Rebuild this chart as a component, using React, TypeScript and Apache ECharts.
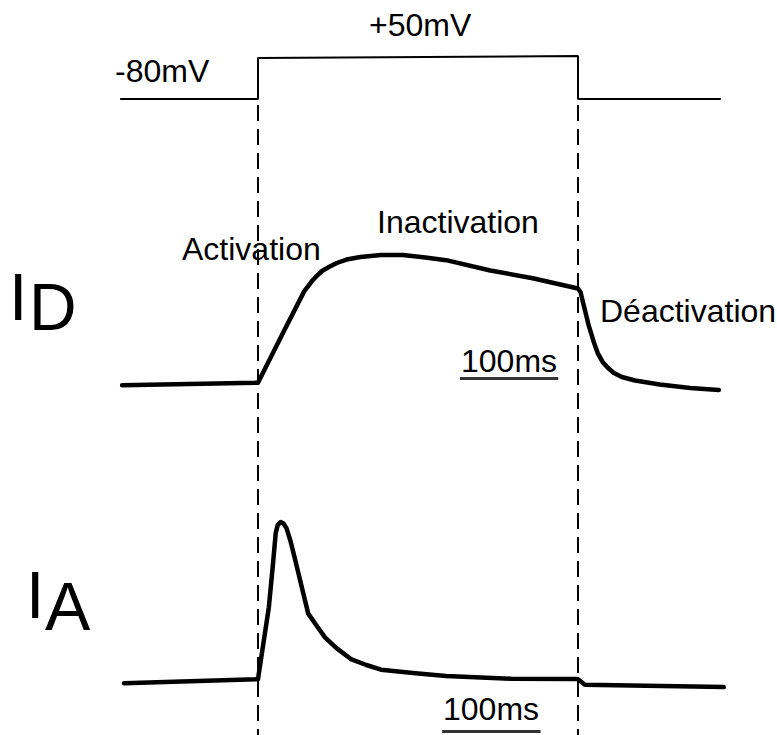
import React, { useEffect, useRef } from "react";
import * as echarts from "echarts";

// Voltage command (ms, mV)
const pulseTimes = [-140, 0, 0, 325, 325, 470];
const pulseMv = [-80, -80, 50, 56, -80, -80];

// I_D delayed rectifier current (normalised)
const idTimes = [-138, 0, 27, 47, 55, 60, 65, 72, 80, 90, 104, 125, 147, 170, 191, 236, 279, 325, 327.5, 332, 336, 341, 345, 350, 355.5, 361.5, 369.5, 383, 408, 439, 468];
const idValues = [-0.01, 0.01, 0.42, 0.72, 0.8, 0.84, 0.876, 0.907, 0.938, 0.965, 0.984, 1.0, 1.0, 0.98, 0.96, 0.88, 0.82, 0.74, 0.713, 0.574, 0.45, 0.326, 0.24, 0.171, 0.124, 0.085, 0.054, 0.027, -0.004, -0.031, -0.047];

// I_A transient current (normalised)
const iaTimes = [-136, 0, 11, 15, 18, 20, 23, 26, 29, 33, 37, 44, 51, 60, 68, 80, 95, 110, 125, 160, 191, 257, 323, 325, 332, 473];
const iaValues = [-0.02, 0.005, 0.46, 0.72, 0.93, 0.98, 1.0, 0.99, 0.96, 0.88, 0.78, 0.6, 0.42, 0.34, 0.27, 0.2, 0.13, 0.095, 0.065, 0.043, 0.025, 0.008, 0.006, 0.005, -0.03, -0.045];

// Scale bars (100 ms)
const idBarTimes = [205, 305];
const idBarValues = [0.043, 0.043];
const iaBarTimes = [187, 287];
const iaBarValues = [-0.326, -0.326];

// Pulse on/off markers
const markerTimes = [0, 325];

const zip = (a: number[], b: number[]) => a.map((v, i) => [v, b[i]]);

const FONT = "'Liberation Sans', Arial, Helvetica, sans-serif";

export default function App() {
  const ref = useRef<HTMLDivElement>(null);
  useEffect(() => {
    if (!ref.current) return;
    const chart = echarts.init(ref.current, undefined, { renderer: "svg" });
    const K = 320 / 325; // px per ms
    const xMin = -150;
    const xMax = 475;
    const left = 258 + xMin * K;
    const width = (xMax - xMin) * K;
    const VPX = 41 / 130;
    const grids = [
      { left, width, top: 99 - 180 * VPX, height: 200 * VPX },
      { left, width, top: 384 - 1.1 * 129, height: 1.3 * 129 },
      { left, width, top: 680 - 1.1 * 158, height: 1.44 * 158 },
      { left, width, top: 105, height: 630 },
    ];
    const yRanges = [
      [-100, 100],
      [-0.2, 1.1],
      [-0.34, 1.1],
      [0, 1],
    ];
    const lineBase = { type: "line", symbol: "none", clip: false, silent: true };
    const text = (t: string, x: number, y: number, size: number, align = "left") => ({
      type: "text",
      x,
      y,
      style: { text: t, fontSize: size, fontFamily: FONT, fill: "#000", align, verticalAlign: "middle" },
    });
    chart.setOption({
      animation: false,
      backgroundColor: "#ffffff",
      grid: grids,
      xAxis: grids.map((_, i) => ({ type: "value", gridIndex: i, min: xMin, max: xMax, show: false })),
      yAxis: yRanges.map((r, i) => ({ type: "value", gridIndex: i, min: r[0], max: r[1], show: false })),
      series: [
        { ...lineBase, xAxisIndex: 0, yAxisIndex: 0, data: zip(pulseTimes, pulseMv), lineStyle: { color: "#000", width: 2 } },
        { ...lineBase, xAxisIndex: 1, yAxisIndex: 1, data: zip(idTimes, idValues), lineStyle: { color: "#000", width: 4.5, join: "round", cap: "round" } },
        { ...lineBase, xAxisIndex: 2, yAxisIndex: 2, data: zip(iaTimes, iaValues), lineStyle: { color: "#000", width: 4.5, join: "round", cap: "round" } },
        { ...lineBase, xAxisIndex: 1, yAxisIndex: 1, data: zip(idBarTimes, idBarValues), lineStyle: { color: "#333", width: 3 } },
        { ...lineBase, xAxisIndex: 2, yAxisIndex: 2, data: zip(iaBarTimes, iaBarValues), lineStyle: { color: "#333", width: 3 } },
        ...markerTimes.map((t) => ({
          ...lineBase,
          xAxisIndex: 3,
          yAxisIndex: 3,
          data: [[t, 1], [t, 0]],
          lineStyle: { color: "#000", width: 2, type: [16, 8] },
        })),
      ],
      graphic: [
        text("-80mV", 115, 71, 32),
        text("+50mV", 369, 25, 32),
        text("Activation", 182, 249, 32),
        text("Inactivation", 377, 222, 32),
        text("Déactivation", 600, 311, 32),
        text("100ms", 509, 361, 32, "center"),
        text("100ms", 491, 709, 32, "center"),
        text("I", 9, 297, 66),
        text("D", 29, 307, 66),
        text("I", 26, 595, 66),
        text("A", 45, 606, 68),
      ],
    });
    return () => chart.dispose();
  }, []);
  return <div ref={ref} style={{ position: "absolute", left: 0, top: 0, width: 777, height: 735 }} />;
}
